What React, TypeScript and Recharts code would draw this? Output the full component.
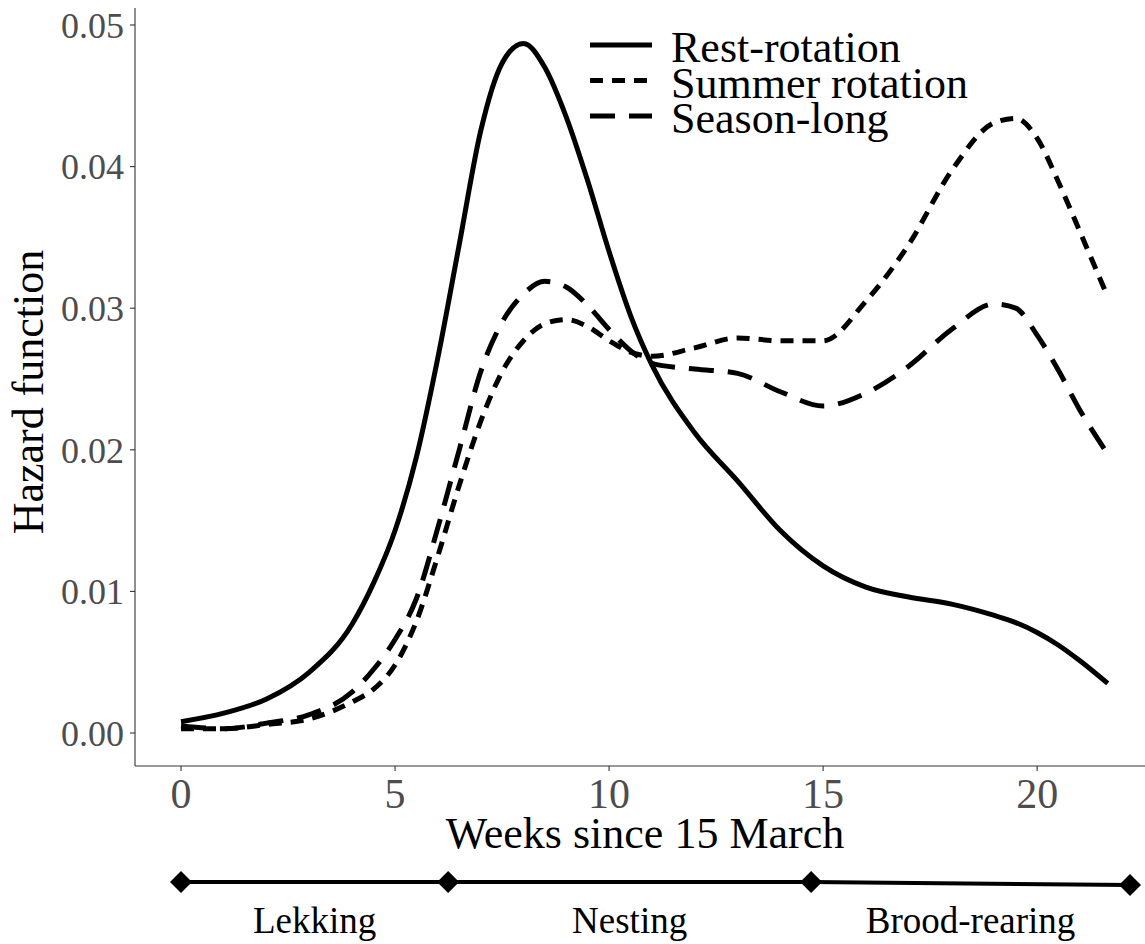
import React from 'react';
import { LineChart, Line, XAxis, YAxis, Legend } from 'recharts';

const WEEKS = [0, 1, 2, 3, 4, 4.5, 5, 5.5, 6, 6.5, 7, 7.5, 8, 8.5, 9, 9.5, 10, 10.5, 11, 12, 13, 14, 15, 16, 17, 18, 19, 19.5, 20, 20.5, 21, 21.65];
const REST = [0.0008, 0.0014, 0.0024, 0.0043, 0.0077, 0.0106, 0.0143, 0.0195, 0.0265, 0.0345, 0.0425, 0.0473, 0.0487, 0.047, 0.0435, 0.039, 0.034, 0.0295, 0.026, 0.0212, 0.0178, 0.0143, 0.0118, 0.0103, 0.0096, 0.0091, 0.0083, 0.0078, 0.0071, 0.0062, 0.0051, 0.0035];
const SUMMER = [0.0003, 0.0003, 0.0006, 0.001, 0.0022, 0.0031, 0.0048, 0.0079, 0.0125, 0.0175, 0.022, 0.0255, 0.0277, 0.0289, 0.0292, 0.0287, 0.0277, 0.0269, 0.0266, 0.0272, 0.0279, 0.0277, 0.0277, 0.0305, 0.0345, 0.0397, 0.0431, 0.0434, 0.042, 0.0389, 0.0354, 0.0308];
const SEASON = [0.0005, 0.0003, 0.0007, 0.0013, 0.0029, 0.0045, 0.0066, 0.0095, 0.0145, 0.02, 0.0255, 0.029, 0.031, 0.0319, 0.0315, 0.0302, 0.0285, 0.027, 0.0261, 0.0257, 0.0254, 0.0241, 0.0231, 0.024, 0.0259, 0.0285, 0.0303, 0.03, 0.0281, 0.0256, 0.0228, 0.0197];

const SERIES_NAMES = ['Rest-rotation', 'Summer rotation', 'Season-long'];
const SERIES_KEYS = ['rest', 'summer', 'season'];
const SERIES_DASH = ['', '13 9', '25 14'];

const X_TICKS = [0, 5, 10, 15, 20];
const Y_TICKS = [0, 0.01, 0.02, 0.03, 0.04, 0.05];

const STAGE_NAMES = ['Lekking', 'Nesting', 'Brood-rearing'];
const STAGE_BOUNDS = [0, 6.24, 14.72, 22.17];
const STAGE_LEVEL = [0, 0, 0, -0.14];

const X_DOMAIN = [-1.075, 22.52];
const Y_DOMAIN = [-0.00233, 0.0512];

const FONT = '"Liberation Serif", "Times New Roman", serif';
const AXIS_GREY = '#333333';
const TICK_GREY = '#4d4d4d';

const data = WEEKS.map((w, i) => ({ w, rest: REST[i], summer: SUMMER[i], season: SEASON[i] }));
const stageData = STAGE_BOUNDS.map((w, i) => ({ w, t: STAGE_LEVEL[i] }));
const stageLabelPos = STAGE_NAMES.map((_, i) => (STAGE_BOUNDS[i] + STAGE_BOUNDS[i + 1]) / 2);

const LegendContent = () => (
  <svg width={420} height={130} style={{ display: 'block' }}>
    {SERIES_NAMES.map((name, i) => {
      const baseline = 44 + i * 35.5;
      const lineY = baseline - 17;
      return (
        <g key={name}>
          <line x1={5} x2={67} y1={lineY} y2={lineY} stroke="#000" strokeWidth={5}
            strokeDasharray={SERIES_DASH[i] || undefined} />
          <text x={86} y={baseline} fontFamily={FONT} fontSize={44} fill="#000">{name}</text>
        </g>
      );
    })}
  </svg>
);

const Diamond = (props: any) => {
  const { cx, cy, index } = props;
  if (cx == null || cy == null) return null;
  const r = 11;
  return <path key={`d-${index}`} d={`M${cx},${cy - r} L${cx + r},${cy} L${cx},${cy + r} L${cx - r},${cy} Z`} fill="#000" />;
};

export default function App() {
  return (
    <div style={{ position: 'absolute', left: 0, top: 0, width: 1145, height: 944, background: '#fff' }}>
      <LineChart width={1145} height={860} data={data} margin={{ top: 8, right: 0, bottom: 0, left: 0 }}>
        <XAxis
          dataKey="w"
          type="number"
          domain={X_DOMAIN}
          ticks={X_TICKS}
          allowDataOverflow
          height={94}
          tickSize={5}
          tickMargin={7}
          stroke={AXIS_GREY}
          strokeWidth={1.1}
          tick={{ fill: TICK_GREY, fontSize: 42, fontFamily: FONT }}
          label={{
            content: () => (
              <text x={645} y={848} textAnchor="middle" fontFamily={FONT} fontSize={44} fill="#000">
                Weeks since 15 March
              </text>
            ),
          }}
        />
        <YAxis
          type="number"
          domain={Y_DOMAIN}
          ticks={Y_TICKS}
          allowDataOverflow
          width={135}
          tickSize={5}
          tickMargin={6}
          stroke={AXIS_GREY}
          strokeWidth={1.1}
          tickFormatter={(v: number) => v.toFixed(2)}
          tick={{ fill: TICK_GREY, fontSize: 36, fontFamily: FONT }}
          label={{
            content: () => (
              <text x={43} y={392} transform="rotate(-90 43 392)" textAnchor="middle" fontFamily={FONT} fontSize={44} fill="#000">
                Hazard function
              </text>
            ),
          }}
        />
        <Legend
          layout="vertical"
          verticalAlign="middle"
          align="center"
          wrapperStyle={{ position: 'absolute', left: 585, top: 18, width: 420, height: 130 }}
          content={() => <LegendContent />}
        />
        {SERIES_KEYS.map((k, i) => (
          <Line
            key={k}
            dataKey={k}
            name={SERIES_NAMES[i]}
            type="monotone"
            stroke="#000"
            strokeWidth={5}
            strokeDasharray={SERIES_DASH[i] || undefined}
            dot={false}
            activeDot={false}
            isAnimationActive={false}
          />
        ))}
      </LineChart>
      <LineChart width={1145} height={84} data={stageData} margin={{ top: 0, right: 0, bottom: 0, left: 135 }}>
        <XAxis
          dataKey="w"
          type="number"
          domain={X_DOMAIN}
          ticks={stageLabelPos}
          allowDataOverflow
          height={40}
          axisLine={false}
          tickLine={false}
          tickSize={0}
          tickMargin={3}
          interval={0}
          tickFormatter={(_v: number, i: number) => STAGE_NAMES[i]}
          tick={{ fill: '#000', fontSize: 37, fontFamily: FONT }}
        />
        <YAxis hide type="number" domain={[-1, 1]} />
        <Line
          dataKey="t"
          type="linear"
          stroke="#000"
          strokeWidth={4}
          dot={<Diamond />}
          activeDot={false}
          isAnimationActive={false}
        />
      </LineChart>
    </div>
  );
}
